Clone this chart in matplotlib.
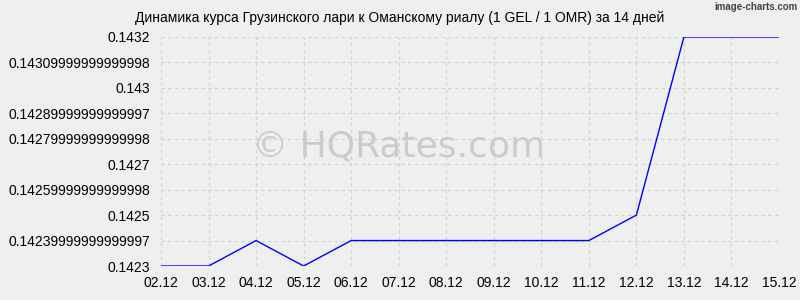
import matplotlib.pyplot as plt

DATES = ["02.12", "03.12", "04.12", "05.12", "06.12", "07.12", "08.12",
         "09.12", "10.12", "11.12", "12.12", "13.12", "14.12", "15.12"]
RATES = [0.1423, 0.1423, 0.1424, 0.1423, 0.1424, 0.1424, 0.1424,
         0.1424, 0.1424, 0.1424, 0.1425, 0.1432, 0.1432, 0.1432]
Y_TICKS = [0.1423, 0.1424, 0.1425, 0.1426, 0.1427,
           0.1428, 0.1429, 0.1430, 0.1431, 0.1432]
Y_LABELS = ["0.1423", "0.14239999999999997", "0.1425", "0.14259999999999998",
            "0.1427", "0.14279999999999998", "0.14289999999999997", "0.143",
            "0.14309999999999998", "0.1432"]

TITLE = "Динамика курса Грузинского лари к Оманскому риалу (1 GEL / 1 OMR) за 14 дней"
BG = "#efefef"


def main():
    plt.rcParams["font.family"] = ["Liberation Sans", "DejaVu Sans"]
    fig = plt.figure(figsize=(8, 3), dpi=100, facecolor=BG)
    ax = fig.add_axes([161 / 800, 1 - 266 / 300, 618 / 800, 229 / 300])
    ax.set_facecolor(BG)

    x = list(range(len(DATES)))
    ax.plot(x, RATES, color="#0000ff", linewidth=1.0, zorder=3)

    ax.set_xlim(0, len(DATES) - 1)
    ax.set_ylim(Y_TICKS[0], Y_TICKS[-1])
    ax.set_xticks(x)
    ax.set_xticklabels(DATES)
    ax.set_yticks(Y_TICKS)
    ax.set_yticklabels(Y_LABELS)
    ax.tick_params(length=0, labelsize=10, colors="#000000")
    ax.tick_params(axis="y", pad=8)
    ax.tick_params(axis="x", pad=7)

    for s in ax.spines.values():
        s.set_visible(False)
    ax.grid(True, color="#d2d2d2", linestyle=(0, (3, 3)), linewidth=0.8)
    ax.set_axisbelow(True)

    ax.text(0.385, 0.52, "© HQRates.com", transform=ax.transAxes,
            fontsize=26, color="#cbcbcb", ha="center", va="center",
            family="DejaVu Sans", zorder=1)

    fig.text(0.5, 1 - 18 / 300, TITLE, ha="center", va="center", fontsize=10)
    fig.text(0.997, 1 - 7 / 300, "image-charts.com", ha="right", va="center",
             fontsize=7, color="#444444", weight="bold")

    fig.savefig("out.png", dpi=100, facecolor=BG)
    plt.close(fig)


if __name__ == "__main__":
    main()
